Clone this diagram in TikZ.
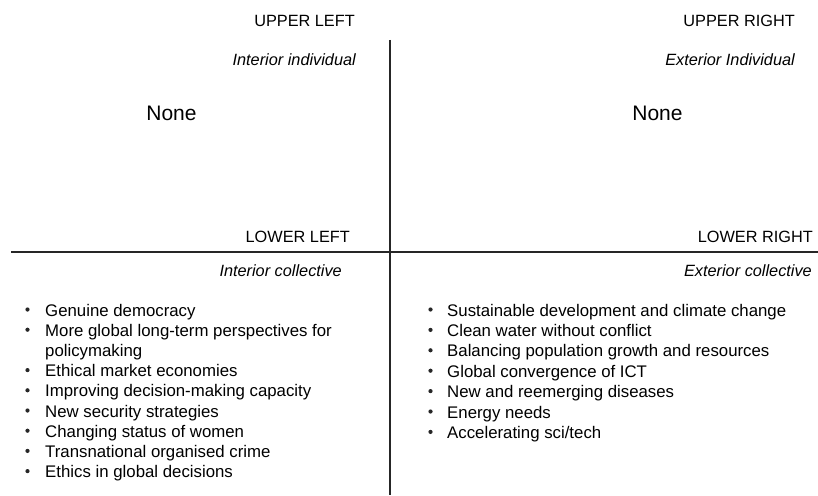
\documentclass[tikz,border=0pt]{standalone}
\usepackage{fontspec}
\setmainfont{Liberation Sans}
\begin{document}
\begin{tikzpicture}[x=1pt,y=-1pt,
  head/.style={inner sep=0pt,anchor=base east,font=\fontsize{16.3}{18}\selectfont},
  sub/.style={inner sep=0pt,anchor=base east,font=\fontsize{16.3}{18}\selectfont\itshape},
  none/.style={inner sep=0pt,anchor=base,font=\fontsize{21}{24}\selectfont},
  item/.style={inner sep=0pt,anchor=base west,font=\fontsize{16.8}{20}\selectfont},
  bul/.style={circle,fill=black!85,inner sep=0pt,minimum size=4.2pt},
  axis/.style={line width=1.8pt,black!85}]
\useasboundingbox (0,0) rectangle (818,495);
% axes
\coordinate (vtop) at (390,40);
\coordinate (vbot) at (390,495);
\coordinate (hl) at (11,252);
\coordinate (hr) at (818,252);
\draw[axis] (vtop) -- (vbot);
\draw[axis] (hl) -- (hr);
% headings
\node[head] (ul) at (355,27) {UPPER LEFT};
\node[head] (ur) at (795,27) {UPPER RIGHT};
\node[sub] (ii) at (356,66) {Interior individual};
\node[sub] (ei) at (795,66) {Exterior Individual};
\node[none] (n1) at (171.5,120) {None};
\node[none] (n2) at (657.5,120) {None};
\node[head] (ll) at (350,242) {LOWER LEFT};
\node[head] (lr) at (813,242) {LOWER RIGHT};
\node[sub] (ic) at (342,276) {Interior collective};
\node[sub] (ec) at (812,276) {Exterior collective};
% left list
\foreach \t [count=\i from 0] in {Genuine democracy,More global long-term perspectives for,policymaking,Ethical market economies,Improving decision-making capacity,New security strategies,Changing status of women,Transnational organised crime,Ethics in global decisions}{
  \node[item] (l\i) at (45,{316+20.2*\i}) {\t};
}
\foreach \i in {0,1,3,4,5,6,7,8}{
  \node[bul] (lb\i) at (27.5,{309.5+20.2*\i}) {};
}
% right list
\foreach \t [count=\i from 0] in {Sustainable development and climate change,Clean water without conflict,Balancing population growth and resources,Global convergence of ICT,New and reemerging diseases,Energy needs,Accelerating sci/tech}{
  \node[item] (r\i) at (447,{316+20.4*\i}) {\t};
  \node[bul] (rb\i) at (430.5,{309.5+20.4*\i}) {};
}
\end{tikzpicture}
\end{document}
